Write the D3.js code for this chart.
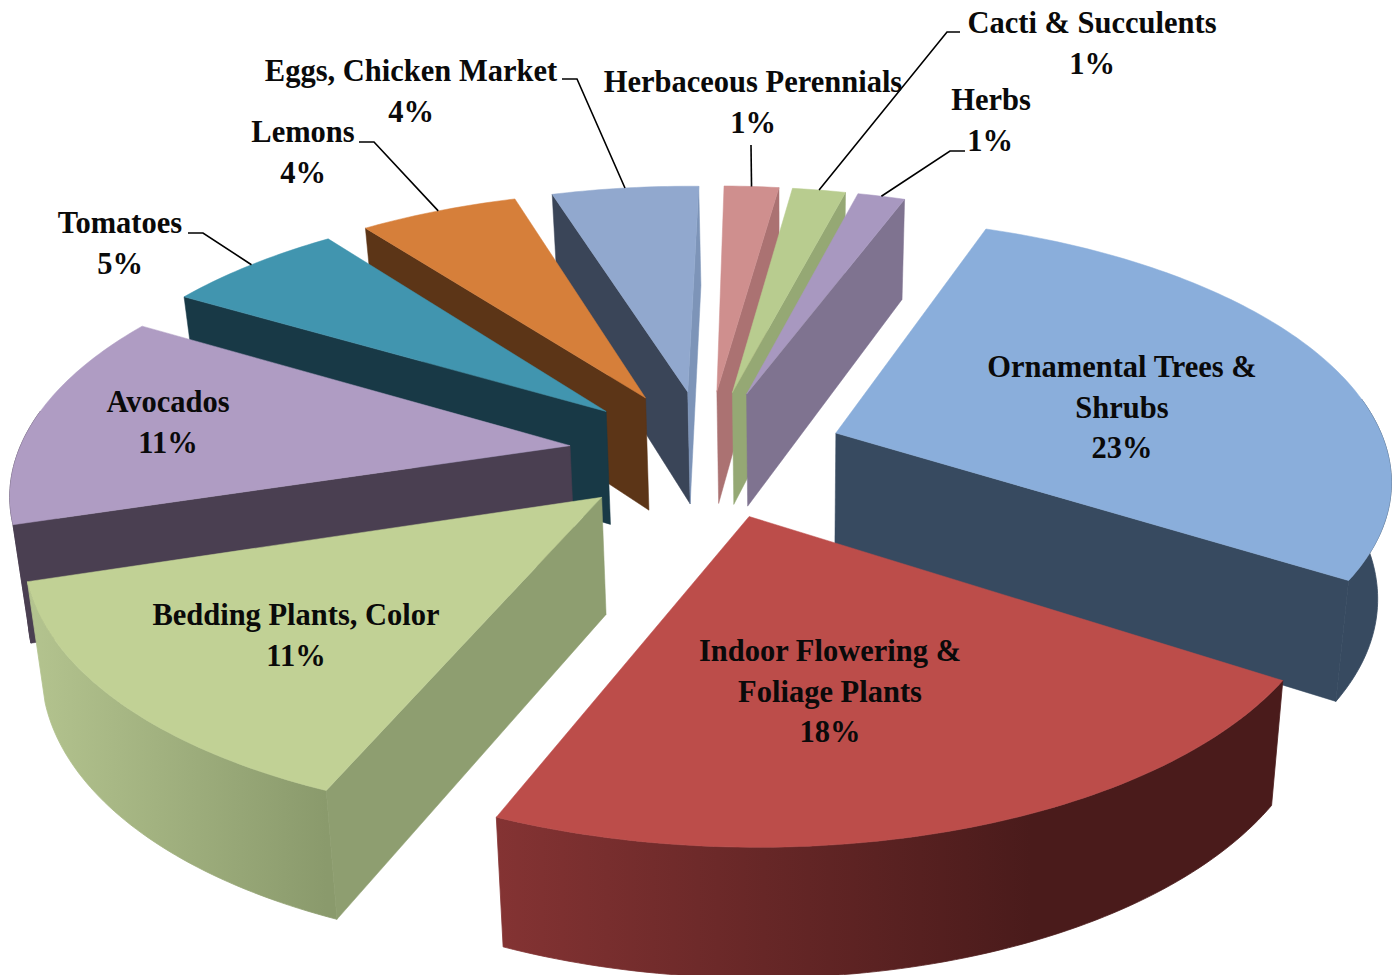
<!DOCTYPE html>
<html>
<head>
<meta charset="utf-8">
<script src="https://cdn.jsdelivr.net/npm/d3@7"></script>
<style>
  html, body { margin: 0; padding: 0; background: #fff; }
  text { font-family: "Liberation Serif", serif; font-weight: bold; font-size: 30.5px; fill: #0a0a0a; }
</style>
</head>
<body>
<div id="chart"></div>
<script>
// Data
const categories = ["Ornamental Trees & Shrubs", "Indoor Flowering & Foliage Plants", "Bedding Plants, Color", "Avocados", "Tomatoes", "Lemons", "Eggs, Chicken Market", "Herbaceous Perennials", "Cacti & Succulents", "Herbs"];
const percentLabels = ["23%", "18%", "11%", "11%", "5%", "4%", "4%", "1%", "1%", "1%"];
// share of the full circle each slice takes up as drawn (the labels do not add up to 100)
const drawnShares = [28.4, 22.2, 13.9, 13.3, 6.2, 5.5, 5.1, 1.9, 1.85, 1.65];

// Colours: top, side walls, outer wall left/right
const topColors = ["#8aaedb", "#bc4d4a", "#c1d195", "#af9cc3", "#4195af", "#d67f3a", "#91a8ce", "#cf8f8e", "#b8cc8f", "#a898c0"];
const startWallColors = ["#374a60", "#4e1e1e", "#8e9e70", "#4a3f51", "#183946", "#5c3517", "#3a4558", "#ab7272", "#95a874", "#7f7390"];
const endWallColors = ["#374a60", "#4e1e1e", "#8e9e70", "#4a3f51", "#183946", "#5c3517", "#7d94b8", "#ab7272", "#95a874", "#7f7390"];
const outerLeft = ["#374a60", "#843333", "#b4c48f", "#4a3f51", "#183946", "#5c3517", "#3a4558", "#ab7272", "#95a874", "#7f7390"];
const outerRight = ["#374a60", "#4a1b1b", "#8a9a6c", "#4a3f51", "#183946", "#5c3517", "#3a4558", "#ab7272", "#95a874", "#7f7390"];
const outerStop = [100, 68, 100, 100, 100, 100, 100, 100, 100, 100];

// Label layout: text lines with centre x, first baseline y, then where the leader starts
const labelLines = [["Ornamental Trees &", "Shrubs", "23%"], ["Indoor Flowering &", "Foliage Plants", "18%"], ["Bedding Plants, Color", "11%"], ["Avocados", "11%"], ["Tomatoes", "5%"], ["Lemons", "4%"], ["Eggs, Chicken Market", "4%"], ["Herbaceous Perennials", "1%"], ["Cacti & Succulents", "1%"], ["Herbs"]];
const labelX = [1122, 830, 296, 168, 120, 303, 411, 753, 1092, 991];
const labelY = [377, 661, 625, 412, 233, 142, 81, 92, 33, 110];
const leaderElbows = [null, null, null, null, [[188, 233], [203, 233]], [[359, 142], [374, 142]], [[562, 79], [577, 79]], [[751, 145]], [[960, 32], [947, 32]], [[965, 151], [950, 151]]];

const width = 1398, height = 975;
const cx = 706.5, cy = 453, rx = 552, ry = 256;
const persp = 0.158, explode = 0.25, depth = 115;
const rad = Math.PI / 180;

const svg = d3.select("#chart").append("svg")
    .attr("width", width)
    .attr("height", height)
    .style("display", "block");
const defs = svg.append("defs");

const arcs = d3.pie().sort(null).startAngle(20.5 * rad).endAngle(380.5 * rad)(drawnShares);

// u to the right, v towards the viewer, low = 1 for the bottom of the slab
function project(u, v, low) {
    const w = 1 - persp * v;
    let x = cx + rx * u / w;
    let y = cy + ry * v / w;
    if (low) {
        y += depth * (1 + 0.11 * v);
        x = cx + (x - cx) * 0.977 + 2;
    }
    return [x, y];
}

function slicePoint(d, r, a, low) {
    const mid = (d.startAngle + d.endAngle) / 2;
    const u = explode * Math.sin(mid) + r * Math.sin(a);
    const v = -explode * Math.cos(mid) - r * Math.cos(a);
    return project(u, v, low);
}

const line = d3.line();
function rim(d, a0, a1, low) {
    const n = Math.max(2, Math.ceil(Math.abs(a1 - a0) / rad));
    return d3.range(n + 1).map(i => slicePoint(d, 1, a0 + (a1 - a0) * i / n, low));
}

function apexY(d) { return slicePoint(d, 0, 0, 0)[1]; }

function wall(g, d, a, color) {
    const pts = [slicePoint(d, 0, 0, 0), slicePoint(d, 1, a, 0), slicePoint(d, 1, a, 1), slicePoint(d, 0, 0, 1)];
    const area = d3.polygonArea(pts);
    if (a === d.startAngle ? area < 0 : area > 0) return;  // faces away
    g.append("path")
        .attr("d", line(pts) + "Z")
        .attr("fill", color)
        .attr("stroke", color)
        .attr("stroke-width", 0.5);
}

// Far slices first so the nearer ones paint over them
const order = d3.range(arcs.length).sort((a, b) => apexY(arcs[a]) - apexY(arcs[b]));

order.forEach(i => {
    const d = arcs[i];
    const g = svg.append("g").attr("class", "slice");

    // Outer wall, only the part that faces the viewer
    const a0 = Math.max(d.startAngle, 82 * rad);
    const a1 = Math.min(d.endAngle, 278 * rad);
    if (a1 > a0) {
        const top = rim(d, a0, a1, 0);
        const bottom = rim(d, a0, a1, 1);
        const grad = defs.append("linearGradient")
            .attr("id", "outer" + i)
            .attr("gradientUnits", "userSpaceOnUse")
            .attr("x1", d3.min(top, p => p[0]))
            .attr("x2", d3.max(top, p => p[0]))
            .attr("y1", 0)
            .attr("y2", 0);
        grad.append("stop").attr("offset", "0%").attr("stop-color", outerLeft[i]);
        grad.append("stop").attr("offset", outerStop[i] + "%").attr("stop-color", outerRight[i]);
        g.append("path")
            .attr("d", line(top.concat(bottom.reverse())) + "Z")
            .attr("fill", `url(#outer${i})`)
            .attr("stroke", `url(#outer${i})`)
            .attr("stroke-width", 0.8);
    }

    wall(g, d, d.startAngle, startWallColors[i]);
    wall(g, d, d.endAngle, endWallColors[i]);

    // Top face
    const face = [slicePoint(d, 0, 0, 0)].concat(rim(d, d.startAngle, d.endAngle, 0));
    g.append("path")
        .attr("d", line(face) + "Z")
        .attr("fill", topColors[i])
        .attr("stroke", topColors[i])
        .attr("stroke-width", 0.5);
});

// Leader lines run from the elbow to the rim at the middle of the slice
leaderElbows.forEach((elbow, i) => {
    if (!elbow) return;
    const d = arcs[i];
    const end = slicePoint(d, 1, (d.startAngle + d.endAngle) / 2, 0);
    svg.append("path")
        .attr("d", line(elbow.concat([end])))
        .attr("fill", "none")
        .attr("stroke", "#000")
        .attr("stroke-width", 1.6);
});

// Labels
labelLines.forEach((lines, i) => {
    lines.forEach((t, j) => {
        svg.append("text")
            .attr("x", labelX[i])
            .attr("y", labelY[i] + j * 40.5)
            .attr("text-anchor", "middle")
            .text(t);
    });
});
svg.append("text").attr("x", 990).attr("y", 151).attr("text-anchor", "middle").text(percentLabels[9]);
</script>
</body>
</html>
